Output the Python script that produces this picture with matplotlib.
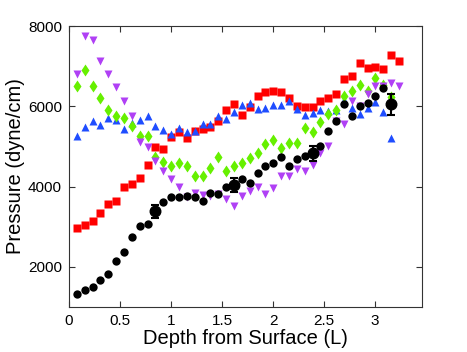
import matplotlib
matplotlib.use("Agg")
import matplotlib.pyplot as plt

plt.rcParams['font.family'] = ['Liberation Sans', 'DejaVu Sans']

depth = [0.077, 0.154, 0.231, 0.308, 0.385, 0.462, 0.539, 0.616, 0.693, 0.770,
         0.847, 0.924, 1.001, 1.078, 1.155, 1.232, 1.309, 1.386, 1.463, 1.540,
         1.617, 1.694, 1.771, 1.848, 1.925, 2.002, 2.079, 2.156, 2.233, 2.310,
         2.387, 2.464, 2.541, 2.618, 2.695, 2.772, 2.849, 2.926, 3.003, 3.080,
         3.157, 3.234]

black = [1319, 1425, 1500, 1666, 1822, 2137, 2360, 2739, 3029, 3078,
         3383, 3606, 3730, 3730, 3755, 3730, 3648, 3839, 3814, 3978,
         4045, 4186, 4087, 4340, 4523, 4582, 4738, 4523, 4681, 4771,
         4830, 5011, 5390, 5628, 6052, 5747, 6010, 6077, 6257, 6466,
         6052]
black_err_idx = [10, 20, 30, 40]
black_err = [165, 170, 180, 260]

red = [2979, 3053, 3153, 3334, 3574, 3648, 4002, 4062, 4225, 4548,
       4979, 4937, 5234, 5366, 5217, 5390, 5425, 5482, 5638, 5920,
       6069, 5772, 5985, 6257, 6349, 6391, 6349, 6208, 6010, 5977,
       5985, 6126, 6208, 6317, 6689, 6746, 7086, 6945, 6976, 6927,
       7286, 7120]

blue = [5266, 5489, 5623, 5524, 5712, 5655, 5432, 5573, 5665, 5762,
        5500, 5407, 5313, 5453, 5366, 5390, 5549, 5549, 5762, 5680,
        5861, 6027, 6094, 5928, 5970, 6044, 6044, 6126, 5945, 5790,
        5836, 5920, 5886, 5920, 6168, 5970, 5804, 5970, 6109, 5861,
        5202]

green = [6505, 6902, 6505, 6200, 5903, 5762, 5697, 5507, 5266, 5266,
         4746, 4607, 4515, 4582, 4523, 4275, 4275, 4465, 4746, 4392,
         4523, 4597, 4706, 4830, 5061, 5160, 4961, 5078, 5093, 5450,
         5366, 5613, 5804, 5920, 6250, 6391, 6540, 6381, 6704, 6540,
         6233]

purple = [6813, 7744, 7662, 7135, 6813, 6473, 6134, 5762, 5103, 4979,
          4632, 4392, 4186, 3985, 3730, 3850, 3780, 3755, 3814, 3698,
          3524, 3755, 3879, 3988, 3822, 3953, 4275, 4275, 4441, 4399,
          4550, 4838, 5011, 5630, 5564, 6134, 6010, 6300, 6498, 6498,
          6580, 6498]

fig = plt.figure(figsize=(4.67, 3.52), dpi=100)
ax = fig.add_axes([0.1478, 0.1278, 0.9036 - 0.1478, 0.926 - 0.1278])

ms = 5.2
ax.plot(depth[:len(red)], red, 's', color='#ff0000', ms=ms, mec='none', zorder=3)
ax.plot(depth[:len(blue)], blue, '^', color='#1f4dff', ms=ms + 1.0, mec='none', zorder=3)
ax.plot(depth[:len(green)], green, 'd', color='#66f000', ms=ms + 1.4, mec='none', zorder=3)
ax.plot(depth[:len(purple)], purple, 'v', color='#b040f5', ms=ms + 1.0, mec='none', zorder=3)
ax.plot(depth[:len(black)], black, 'o', color='black', ms=ms + 0.8, mec='none', zorder=4)

ex = [depth[i] for i in black_err_idx]
ey = [black[i] for i in black_err_idx]
ax.errorbar(ex, ey, yerr=black_err, fmt='o', color='black', ms=ms + 2.4,
            elinewidth=1.5, capsize=3, capthick=1.5, zorder=5)

ax.set_xlim(0, 3.46)
ax.set_ylim(1000, 8000)
ax.set_xticks([0, 0.5, 1, 1.5, 2, 2.5, 3])
ax.set_xticklabels(['0', '0.5', '1', '1.5', '2', '2.5', '3'])
ax.set_yticks([2000, 4000, 6000, 8000])
ax.tick_params(direction='in', top=True, right=True, labelsize=11, length=4.5,
               width=0.8, color='#333333', pad=5)
for s in ax.spines.values():
    s.set_color('#333333')
    s.set_linewidth(0.8)

ax.set_xlabel('Depth from Surface (L)', fontsize=14.5, labelpad=1)
ax.set_ylabel('Pressure (dyne/cm)', fontsize=14.5, labelpad=2)

fig.savefig('out.png', dpi=100)
